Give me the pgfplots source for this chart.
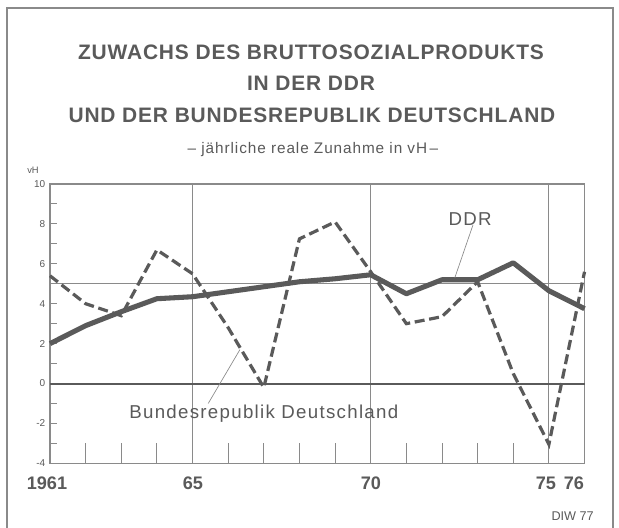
\documentclass[border=0pt]{standalone}
\usepackage{fontspec}
\setmainfont{Liberation Sans}
\newfontfamily\titlefont[LetterSpace=4]{Liberation Sans}
\newfontfamily\lsfont[LetterSpace=7]{Liberation Sans}
\newfontfamily\subfont[LetterSpace=6]{Liberation Sans}
\usepackage{pgfplots}
\pgfplotsset{compat=1.18}
\definecolor{ink}{HTML}{5A5A5A}
\definecolor{framec}{HTML}{8A8A8A}

\begin{document}
\begin{tikzpicture}[x=0.75pt,y=0.75pt]
\useasboundingbox (0,0) rectangle (619,528);
\fill[white] (0,0) rectangle (619,528);
\draw[framec, line width=1.1pt] (7,-5) -- (7,520) -- (613,520) -- (613,-5);
\node[ink, font=\titlefont\bfseries\fontsize{15.7}{18}\selectfont, inner sep=0] at (311,475.5) {ZUWACHS DES BRUTTOSOZIALPRODUKTS};
\node[ink, font=\titlefont\bfseries\fontsize{15.7}{18}\selectfont, inner sep=0] at (311,445) {IN DER DDR};
\node[ink, font=\titlefont\bfseries\fontsize{15.7}{18}\selectfont, inner sep=0] at (312,413) {UND DER BUNDESREPUBLIK DEUTSCHLAND};
\node[ink, font=\subfont\fontsize{11.5}{13}\selectfont, inner sep=0, anchor=base] at (313,374) {– jährliche reale Zunahme in vH\,–};
\node[ink, font=\fontsize{7}{8}\selectfont, inner sep=0] at (33,358) {vH};

\begin{axis}[
  at={(37.5pt,48.5pt)}, anchor=south west,
  scale only axis, width=400.9pt, height=209.5pt,
  xmin=1961, xmax=1976, ymin=-4, ymax=10,
  axis line style={framec, line width=0.9pt},
  xtick=\empty,
  ytick={-4,...,10},
  yticklabels={-4,,-2,,0,,2,,4,,6,,8,,10},
  ytick pos=left, tick align=inside,
  major tick length=5pt,
  tick style={framec, line width=0.7pt},
  yticklabel style={font=\fontsize{7.5}{8}\selectfont, text=ink},
  /pgf/number format/assume math mode=true,
  clip=false,
]
\draw[framec, line width=0.6pt] (axis cs:1961,5) -- (axis cs:1976,5);
\pgfplotsinvokeforeach{1965,1970,1975}{
  \draw[framec, line width=0.7pt] (axis cs:#1,-4) -- (axis cs:#1,10);
}
\pgfplotsinvokeforeach{1962,1963,1964,1966,1967,1968,1969,1971,1972,1973,1974}{
  \draw[framec, line width=0.7pt] (axis cs:#1,-4) -- (axis cs:#1,-3);
}
\draw[ink, line width=1.5pt] (axis cs:1961,0) -- (axis cs:1976,0);

% Bundesrepublik Deutschland (dashed)
\addplot[ink, line width=2.4pt, dash pattern=on 7.5pt off 3.5pt] coordinates {
 (1961,5.4) (1962,4.0) (1963,3.4) (1964,6.7) (1965,5.5) (1966,2.8)
 (1967,-0.2) (1968,7.25) (1969,8.1) (1970,5.6) (1971,3.0) (1972,3.35)
 (1973,5.1) (1974,0.5) (1975,-3.05) (1976,5.6)
};
% DDR (solid)
\addplot[ink, line width=3.8pt, line join=round] coordinates {
 (1961,2.0) (1962,2.9) (1963,3.6) (1964,4.25) (1965,4.35) (1966,4.6)
 (1967,4.85) (1968,5.1) (1969,5.25) (1970,5.45) (1971,4.5) (1972,5.2)
 (1973,5.2) (1974,6.05) (1975,4.65) (1976,3.75)
};

\node[ink, font=\lsfont\fontsize{14}{16}\selectfont, inner sep=0] at (axis cs:1972.79,8.25) {DDR};
\draw[framec, line width=0.5pt] (axis cs:1972.87,7.95) -- (axis cs:1972.36,5.3);
\node[ink, font=\lsfont\fontsize{14}{16}\selectfont, inner sep=0, anchor=base] at (axis cs:1967.0,-1.75) {Bundesrepublik Deutschland};
\draw[framec, line width=0.5pt] (axis cs:1965.44,-1.0) -- (axis cs:1966.33,1.7);
\end{axis}

\node[ink, font=\bfseries\fontsize{13.6}{15}\selectfont, anchor=base, inner sep=0] at (47,38.7) {1961};
\node[ink, font=\bfseries\fontsize{13.6}{15}\selectfont, anchor=base, inner sep=0] at (193,38.7) {65};
\node[ink, font=\bfseries\fontsize{13.6}{15}\selectfont, anchor=base, inner sep=0] at (371,38.7) {70};
\node[ink, font=\bfseries\fontsize{13.6}{15}\selectfont, anchor=base, inner sep=0] at (546,38.7) {75};
\node[ink, font=\bfseries\fontsize{13.6}{15}\selectfont, anchor=base, inner sep=0] at (574,38.7) {76};
\node[ink, font=\fontsize{9.5}{11}\selectfont, anchor=base east, inner sep=0] at (594,7) {DIW 77};
\end{tikzpicture}
\end{document}
